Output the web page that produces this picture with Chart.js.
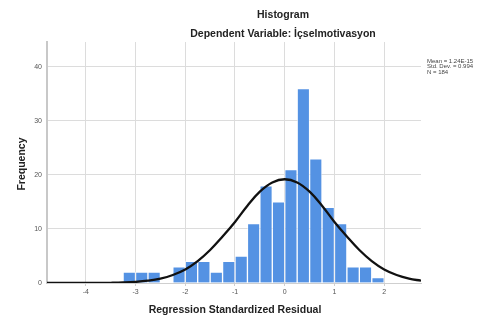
<!DOCTYPE html>
<html>
<head>
<meta charset="utf-8">
<script src="https://cdn.jsdelivr.net/npm/chart.js@4/dist/chart.umd.min.js"></script>
<style>
  html, body { margin: 0; padding: 0; background: #ffffff; }
  #c { display: block; }
</style>
</head>
<body>
<canvas id="c" width="493" height="320"></canvas>
<script>
// ---- data ----
const titleText = "Histogram";
const subtitleText = "Dependent Variable: İçselmotivasyon";
const xAxisTitle = "Regression Standardized Residual";
const yAxisTitle = "Frequency";
const statsLines = ["Mean = 1.24E-15", "Std. Dev. = 0.994", "N = 184"];

// histogram bins (centres of 0.25-wide bins) and counts
const binCenters = [-3.125, -2.875, -2.625, -2.375, -2.125, -1.875, -1.625, -1.375, -1.125, -0.875,
                    -0.625, -0.375, -0.125, 0.125, 0.375, 0.625, 0.875, 1.125, 1.375, 1.625, 1.875];
const binCounts  = [2, 2, 2, 0, 3, 4, 4, 2, 4, 5,
                    11, 18, 15, 21, 36, 23, 14, 11, 3, 3, 1];

// normal curve
const curveX = [-4.78, -4.5, -4.25, -4, -3.75, -3.5, -3.25, -3, -2.75, -2.5, -2.25, -2, -1.75, -1.5, -1.25,
                -1, -0.75, -0.5, -0.25, 0, 0.25, 0.5, 0.75, 1, 1.25, 1.5, 1.75, 2, 2.25, 2.5, 2.74];
const curveY = [0, 0, 0, 0.01, 0.02, 0.04, 0.09, 0.2, 0.42, 0.81, 1.48, 2.5, 4.05, 6.1, 8.6,
                11.3, 14.3, 16.9, 18.6, 19.2, 18.6, 16.9, 14.3, 11.3, 8.6, 6.1, 4.05, 2.5, 1.48, 0.81, 0.43];

const xTicks = [-4, -3, -2, -1, 0, 1, 2];
const yTicks = [0, 10, 20, 30, 40];
const xMin = -4.78, xMax = 2.74;
const yMax = 44.6;

const FONT = "'Liberation Sans', Arial, sans-serif";

const textPlugin = {
  id: 'texts',
  afterDraw(chart) {
    const ctx = chart.ctx;
    ctx.save();
    ctx.fillStyle = '#222';
    ctx.textAlign = 'center';
    ctx.textBaseline = 'middle';
    ctx.font = "bold 10.5px " + FONT;
    ctx.fillText(titleText, 283, 15);
    ctx.fillText(subtitleText, 283, 34.5);
    ctx.fillText(xAxisTitle, 235, 310);
    ctx.save();
    ctx.translate(22, 164);
    ctx.rotate(-Math.PI / 2);
    ctx.fillText(yAxisTitle, 0, 0);
    ctx.restore();
    ctx.font = "6px " + FONT;
    ctx.fillStyle = '#444';
    ctx.textAlign = 'left';
    statsLines.forEach((s, i) => ctx.fillText(s, 427, 61 + i * 5.5));
    ctx.restore();
  }
};

new Chart(document.getElementById('c'), {
  data: {
    datasets: [
      {
        type: 'line',
        data: curveX.map((x, i) => ({ x: x, y: curveY[i] })),
        borderColor: '#111111',
        borderWidth: 2.3,
        pointRadius: 0,
        tension: 0.4,
        fill: false,
        order: 0
      },
      {
        type: 'bar',
        data: binCenters.map((x, i) => ({ x: x, y: binCounts[i] })),
        backgroundColor: '#5492e3',
        borderColor: 'rgba(255,255,255,0.5)',
        borderWidth: 1,
        borderSkipped: 'bottom',
        barPercentage: 1,
        categoryPercentage: 1,
        order: 1
      }
    ]
  },
  plugins: [textPlugin],
  options: {
    responsive: false,
    animation: false,
    devicePixelRatio: 1,
    layout: { padding: { left: 0, right: 72, top: 42, bottom: 0 } },
    plugins: { legend: { display: false }, tooltip: { enabled: false }, title: { display: false } },
    scales: {
      x: {
        type: 'linear',
        min: xMin,
        max: xMax,
        offset: false,
        afterBuildTicks(scale) { scale.ticks = xTicks.map(v => ({ value: v })); },
        afterFit(scale) { scale.height = 37; },
        grid: { offset: false, color: '#dcdcdc', lineWidth: 1, drawTicks: true, tickLength: 3, tickColor: '#cfcfcf' },
        border: { display: true, color: '#cfcfcf', width: 1 },
        ticks: { font: { family: FONT, size: 7 }, color: '#555', padding: 2, maxRotation: 0 }
      },
      y: {
        type: 'linear',
        min: 0,
        max: yMax,
        afterBuildTicks(scale) { scale.ticks = yTicks.map(v => ({ value: v })); },
        afterFit(scale) { scale.width = 47; },
        grid: { color: '#dcdcdc', lineWidth: 1, drawTicks: false },
        border: { display: true, color: '#c8c8c8', width: 2 },
        ticks: { font: { family: FONT, size: 7 }, color: '#555', padding: 5 }
      }
    }
  }
});
</script>
</body>
</html>
